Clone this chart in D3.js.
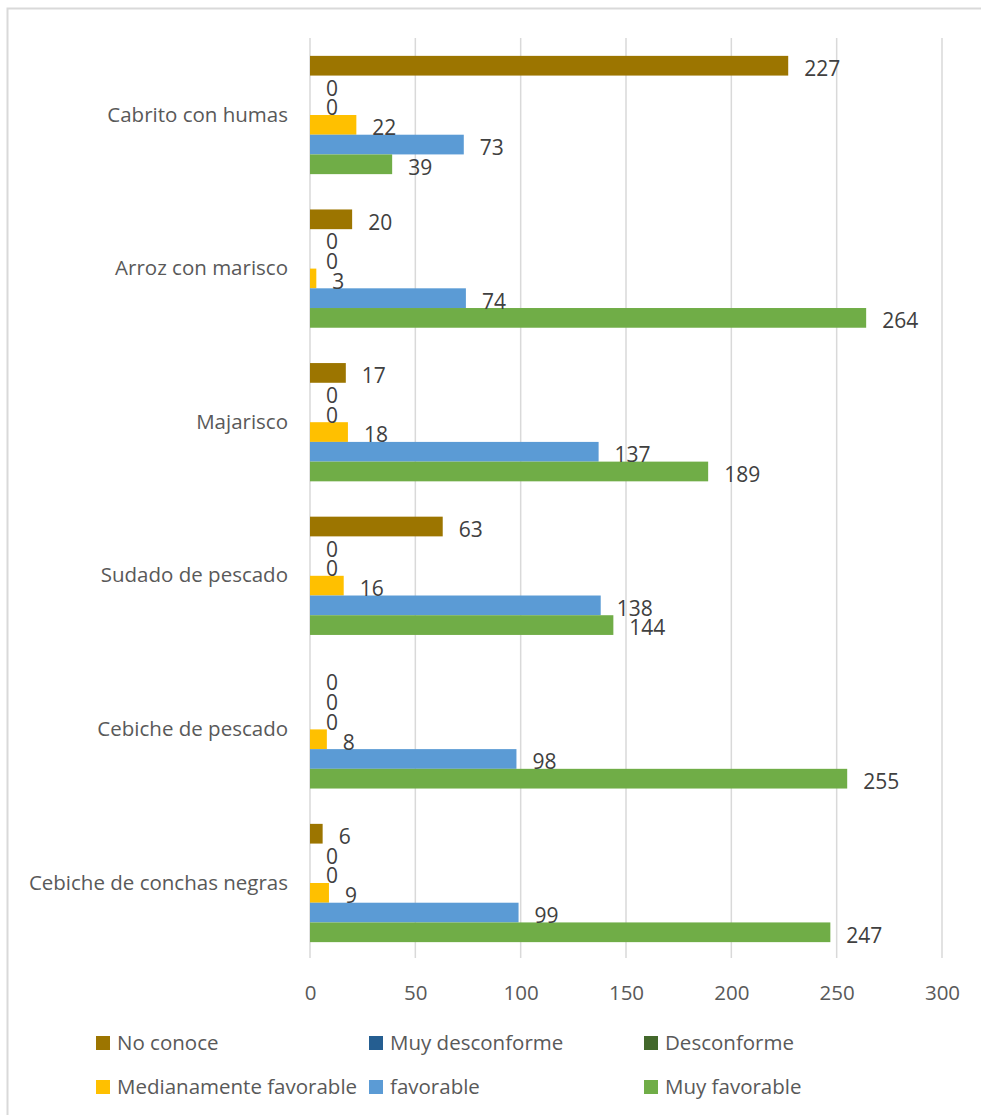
<!DOCTYPE html>
<html><head><meta charset="utf-8">
<script src="https://cdn.jsdelivr.net/npm/d3@7"></script>
<style>
body{margin:0;background:#fff;}
svg{display:block;font-family:"Open Sans",sans-serif;}
</style></head><body>
<svg id="c" width="981" height="1115"></svg>
<script>
const categories = ["Cabrito con humas","Arroz con marisco","Majarisco","Sudado de pescado","Cebiche de pescado","Cebiche de conchas negras"];
const seriesNames = ["No conoce","Muy desconforme","Desconforme","Medianamente favorable","favorable","Muy favorable"];
const seriesColors = ["#9C7500","#255E91","#43682B","#FFC000","#5B9BD5","#70AD47"];
const noConoce = [227,20,17,63,0,6];
const muyDesconforme = [0,0,0,0,0,0];
const desconforme = [0,0,0,0,0,0];
const medianamente = [22,3,18,16,8,9];
const favorable = [73,74,137,138,98,99];
const muyFavorable = [39,264,189,144,255,247];
const xTicks = [0,50,100,150,200,250,300];

const seriesValues = [noConoce,muyDesconforme,desconforme,medianamente,favorable,muyFavorable];

const svg = d3.select("#c");
svg.append("rect").attr("x",7.5).attr("y",8.5).attr("width",1100).attr("height",1200)
  .attr("fill","none").attr("stroke","#d9d9d9").attr("stroke-width",2);

const x = d3.scaleLinear().domain([0,300]).range([310,942]);
const y0 = d3.scaleBand().domain(categories).range([38.2,959.8]).paddingInner(0.23).paddingOuter(0.115);
const y1 = d3.scaleBand().domain(seriesNames).range([0,y0.bandwidth()]);

svg.append("g").selectAll("line").data(xTicks).join("line")
  .attr("x1",d=>x(d)).attr("x2",d=>x(d)).attr("y1",38).attr("y2",958)
  .attr("stroke","#d9d9d9").attr("stroke-width",1.5);

const xAxis = d3.axisBottom(x).tickValues(xTicks).tickSize(0).tickPadding(0);
const gx = svg.append("g").attr("transform","translate(0,985)").call(xAxis);
gx.select(".domain").remove();
gx.selectAll("text").attr("font-size",20.5).attr("fill","#595959").attr("font-family","'Open Sans',sans-serif");

const yAxis = d3.axisLeft(y0).tickSize(0).tickPadding(0);
const gy = svg.append("g").attr("transform","translate(288,0)").call(yAxis);
gy.select(".domain").remove();
gy.selectAll("text").attr("font-size",20.5).attr("fill","#595959").attr("font-family","'Open Sans',sans-serif");

const groups = svg.append("g").selectAll("g").data(categories).join("g")
  .attr("transform",c=>`translate(0,${y0(c)})`);
const cellData = (c,i)=>seriesNames.map((s,j)=>({s,j,v:seriesValues[j][i]}));
groups.selectAll("rect").data(cellData).join("rect")
  .attr("x",x(0)).attr("y",d=>y1(d.s)).attr("height",y1.bandwidth())
  .attr("width",d=>x(d.v)-x(0)).attr("fill",d=>seriesColors[d.j]);
groups.selectAll("text").data(cellData).join("text")
  .attr("x",d=>x(d.v)+16).attr("y",d=>y1(d.s)+y1.bandwidth()/2+3)
  .attr("dy","0.35em").attr("font-size",21).attr("fill","#404040")
  .text(d=>d.v);

const legendX = [96,369,644];
const legendY = [1043,1087];
const lg = svg.append("g").selectAll("g").data(seriesNames).join("g")
  .attr("transform",(d,i)=>`translate(${legendX[i%3]},${legendY[Math.floor(i/3)]})`);
lg.append("rect").attr("x",0).attr("y",-7).attr("width",14).attr("height",14).attr("fill",(d,i)=>seriesColors[i]);
lg.append("text").attr("x",21).attr("y",0).attr("dy","0.35em").attr("font-size",20.5).attr("fill","#595959").text(d=>d);
</script></body></html>
